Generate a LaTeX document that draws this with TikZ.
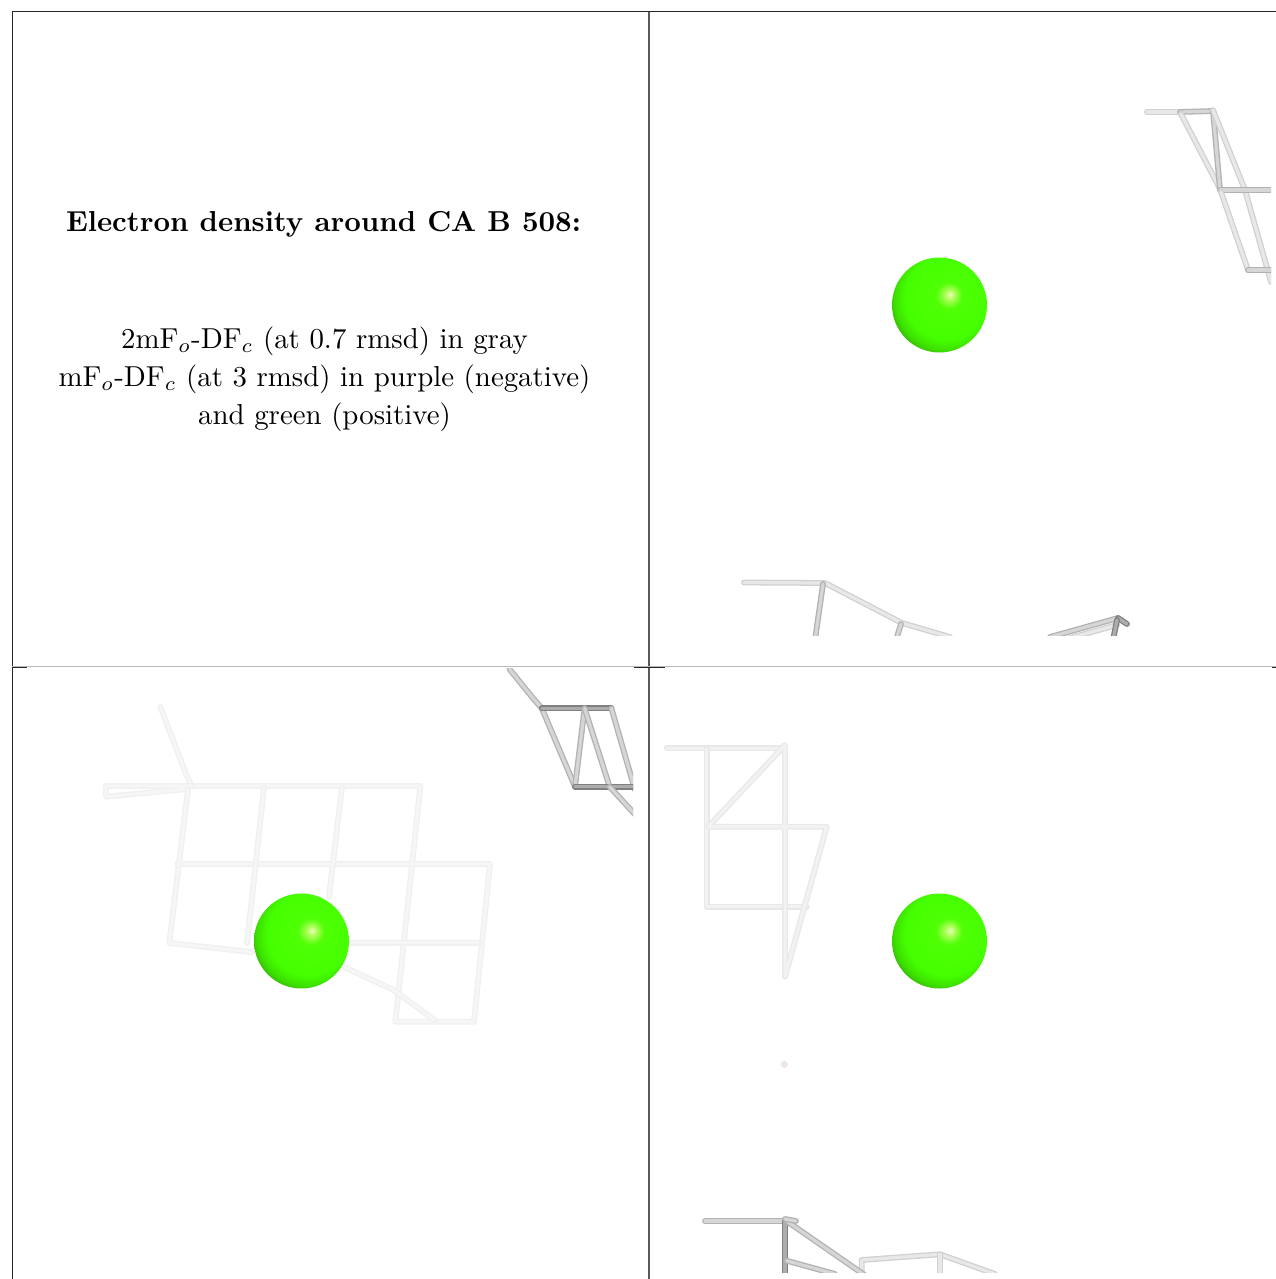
\documentclass[tikz,border=0pt]{standalone}
\definecolor{sa}{rgb}{0.93,1,0.75}
\definecolor{sb}{rgb}{0.68,1,0.35}
\definecolor{sc}{rgb}{0.31,1,0.02}
\definecolor{sd}{rgb}{0.27,1,0}
\definecolor{se}{rgb}{0.24,0.88,0}
\definecolor{sf}{rgb}{0.2,0.62,0.05}
\definecolor{sg}{rgb}{0.15,0.45,0.08}
\pgfdeclareradialshading{sph}{\pgfpoint{5.6bp}{5.6bp}}{
 color(0bp)=(sa);
 color(2.5bp)=(sb);
 color(7bp)=(sc);
 color(22bp)=(sd);
 color(27bp)=(se);
 color(32bp)=(sf);
 color(37bp)=(sg);
 color(66bp)=(sg)}
\newcommand\tb[3]{\draw[tubeo,draw=#1] #3; \draw[tubei,draw=#2] #3;}
\newcommand\ball[1]{\shade[shading=sph] #1 circle[radius=47.5];}
\tikzset{
 x=1pt,y=-1pt,
 tubeo/.style={line width=5.8pt,line cap=round,line join=round},
 tubei/.style={line width=3.2pt,line cap=round,line join=round},
 frameln/.style={line width=1pt,draw=black!85},
 label/.style={scale=2.885,align=center,text=black,inner sep=0pt,anchor=base}
}
\definecolor{fa}{gray}{0.94}\definecolor{fb}{gray}{0.965}
\definecolor{ga}{gray}{0.82}\definecolor{gb}{gray}{0.91}
\definecolor{ha}{gray}{0.70}\definecolor{hb}{gray}{0.84}
\definecolor{ia}{gray}{0.50}\definecolor{ib}{gray}{0.68}
\definecolor{ja}{gray}{0.91}\definecolor{jb}{gray}{0.95}
\definecolor{dotc}{rgb}{0.94,0.89,0.94}
\begin{document}
\begin{tikzpicture}
\useasboundingbox (0,0) rectangle (1276,1279);
\fill[white] (0,0) rectangle (1276,1279);
% frame
\draw[frameln] (12,12) -- (1276,12);
\draw[frameln] (12,12) -- (12,1279);
\draw[line width=1.2pt,draw=black!65] (649,12) -- (649,1279);
\draw[line width=1pt,draw=black!28] (12,666) -- (1276,666);
\draw[frameln] (12,667.2) -- (27,667.2);
\draw[frameln] (634,667.2) -- (665,667.2);
\draw[frameln] (1272,667.2) -- (1276,667.2);
% text
\node[label,font=\bfseries] (title) at (323.5,231) {Electron density around CA B 508:};
\node[label] (lineA) at (324.5,348) {2mF$_o$-DF$_c$ (at 0.7 rmsd) in gray};
\node[label] (lineB) at (324.5,386) {mF$_o$-DF$_c$ (at 3 rmsd) in purple (negative)};
\node[label] (lineC) at (324.5,424) {and green (positive)};
% panel 2, top right
\begin{scope}
\clip (650,13) rectangle (1271,635);
\tb{ga}{gb}{(1147,112) -- (1180,112)}
\tb{ha}{hb}{(1180,112) -- (1213,111)}
\tb{ga}{gb}{(1181,114) -- (1219,187)}
\tb{ha}{hb}{(1213,111) -- (1220,190)}
\tb{ga}{gb}{(1213,110) -- (1245,190) -- (1271,282)}
\tb{ha}{hb}{(1220,190) -- (1270,190)}
\tb{ga}{gb}{(1221,192) -- (1248,270)}
\tb{ha}{hb}{(1248,270) -- (1272,270)}
% bottom
\tb{ga}{gb}{(744,582.5) -- (825,583) -- (902,623) -- (950,637)}
\tb{ha}{hb}{(823,584) -- (815,640)}
\tb{ha}{hb}{(901,624) -- (896,640)}
\tb{ha}{hb}{(1050,637) -- (1118,618)}
\tb{ga}{gb}{(1070,638) -- (1117,625)}
\tb{ia}{ib}{(1118,618) -- (1127,624)}
\tb{ia}{ib}{(1117,620) -- (1113,640)}
\end{scope}
\ball{(939.5,305)}
% panel 3
\begin{scope}
\clip (13,668) rectangle (633,1279);
\tb{fa}{fb}{(160.4,707) -- (186.4,775) -- (191.8,786) -- (420.4,786) -- (395.4,1021.7) -- (474,1021.7) -- (490,864) -- (177.5,864)}
\tb{fa}{fb}{(191.8,786) -- (106,786) -- (106,796.7) -- (187,789)}
\tb{fa}{fb}{(188,789) -- (169.3,943) -- (252,952)}
\tb{fa}{fb}{(264,788) -- (247,943)}
\tb{fa}{fb}{(341.8,788) -- (329,897)}
\tb{fa}{fb}{(345,942.7) -- (479,942.7)}
\tb{fa}{fb}{(343.6,966.7) -- (393.6,990) -- (434.6,1020)}
\tb{ha}{hb}{(509.6,669.3) -- (532,697) -- (541.8,708.3) -- (575,786.7)}
\tb{ia}{ib}{(541.8,708.3) -- (611.4,708.3)}
\tb{ha}{hb}{(584.6,708.3) -- (575,786.7)}
\tb{ha}{hb}{(584.6,708.3) -- (609.6,786.7)}
\tb{ha}{hb}{(611.4,708.3) -- (635,790)}
\tb{ia}{ib}{(575,786.7) -- (635,786.7)}
\tb{ha}{hb}{(609.6,786.7) -- (636,815.5)}
\end{scope}
\ball{(301.5,941)}
% panel 4
\begin{scope}
\clip (650,668) rectangle (1276,1272);
\tb{ja}{jb}{(666.7,748.3) -- (785,748.3)}
\tb{ja}{jb}{(706.7,748.3) -- (706.7,906.7) -- (806.7,906.7)}
\tb{ja}{jb}{(785,745) -- (785,976.7) -- (826.7,826.7) -- (708.3,826.7) -- cycle}
\fill[dotc] (784.3,1064.3) circle[radius=3.6];
\tb{ga}{gb}{(861.7,1272) -- (861.7,1260) -- (940,1254.3) -- (995,1274)}
\tb{ga}{gb}{(940,1254.3) -- (940,1275)}
\tb{ha}{hb}{(705,1221) -- (785,1221)}
\tb{ia}{ib}{(785,1221) -- (785,1276)}
\tb{ha}{hb}{(786.7,1260.7) -- (835,1274)}
\tb{ha}{hb}{(788,1222) -- (866,1276)}
\tb{ha}{hb}{(785,1219) -- (796,1221)}
\end{scope}
\ball{(939.5,941)}
\end{tikzpicture}
\end{document}
